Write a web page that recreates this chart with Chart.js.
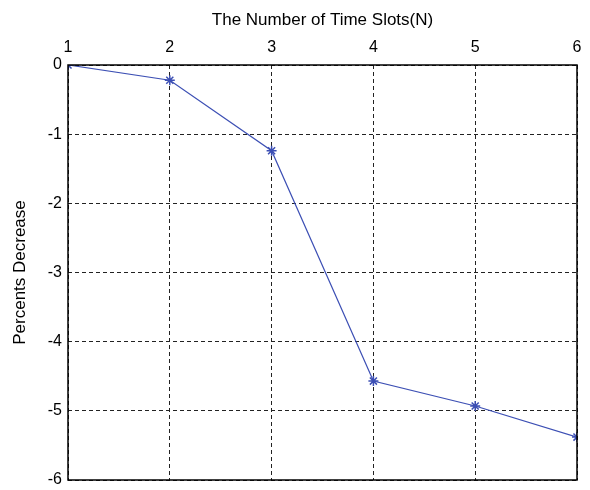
<!DOCTYPE html>
<html>
<head>
<meta charset="utf-8">
<script src="https://cdn.jsdelivr.net/npm/chart.js@4"></script>
<style>
  html, body { margin: 0; padding: 0; background: #fff; }
  #wrap { width: 590px; height: 490px; }
</style>
</head>
<body>
<div id="wrap"><canvas id="chart" width="590" height="490"></canvas></div>
<script>
// Data
const slots = [1, 2, 3, 4, 5, 6];
const decrease = [0, -0.22, -1.24, -4.57, -4.93, -5.38];
const yTicks = [0, -1, -2, -3, -4, -5, -6];

const points = slots.map((n, i) => ({ x: n, y: decrease[i] }));

// draw the full solid box around the plot area
const frame = {
    id: 'frame',
    afterDraw(chart) {
        const { ctx, chartArea: a } = chart;
        ctx.save();
        ctx.strokeStyle = '#000';
        ctx.lineWidth = 1.5;
        ctx.strokeRect(a.left, a.top, a.right - a.left, a.bottom - a.top);
        ctx.restore();
    }
};

const family = "'Liberation Sans', Arial, sans-serif";
const tickFont = { family: family, size: 16 };
const titleFont = { family: family, size: 17 };

new Chart(document.getElementById('chart').getContext('2d'), {
    type: 'line',
    data: {
        datasets: [{
            data: points,
            borderColor: '#3c4fb4',
            backgroundColor: '#3c4fb4',
            borderWidth: 1.2,
            pointStyle: 'star',
            pointRadius: 5,
            pointBorderWidth: 1.5,
            tension: 0,
            fill: false
        }]
    },
    options: {
        responsive: false,
        animation: false,
        layout: { padding: { left: 10, right: 13, top: 10, bottom: 10 } },
        plugins: {
            legend: { display: false },
            tooltip: { enabled: false }
        },
        scales: {
            x: {
                type: 'linear',
                position: 'top',
                min: 1,
                max: 6,
                afterBuildTicks: axis => { axis.ticks = slots.map(v => ({ value: v })); },
                afterFit: axis => { axis.height = 55; axis.paddingLeft = 0; axis.paddingRight = 0; },
                ticks: { color: '#000', font: tickFont, padding: 8 },
                grid: { color: '#222', lineWidth: 1, drawTicks: false },
                border: { display: false, dash: [4, 3] },
                title: { display: true, text: 'The Number of Time Slots(N)', color: '#000', font: titleFont, padding: { top: 0, bottom: 4 } }
            },
            y: {
                type: 'linear',
                min: -6,
                max: 0,
                afterBuildTicks: axis => { axis.ticks = yTicks.map(v => ({ value: v })); },
                afterFit: axis => { axis.width = 58; axis.paddingTop = 0; axis.paddingBottom = 0; },
                ticks: { color: '#000', font: tickFont, padding: 6 },
                grid: { color: '#222', lineWidth: 1, drawTicks: false },
                border: { display: false, dash: [4, 3] },
                title: { display: true, text: 'Percents Decrease', color: '#000', font: titleFont, padding: { top: 0, bottom: 4 } }
            }
        }
    },
    plugins: [frame]
});
</script>
</body>
</html>
